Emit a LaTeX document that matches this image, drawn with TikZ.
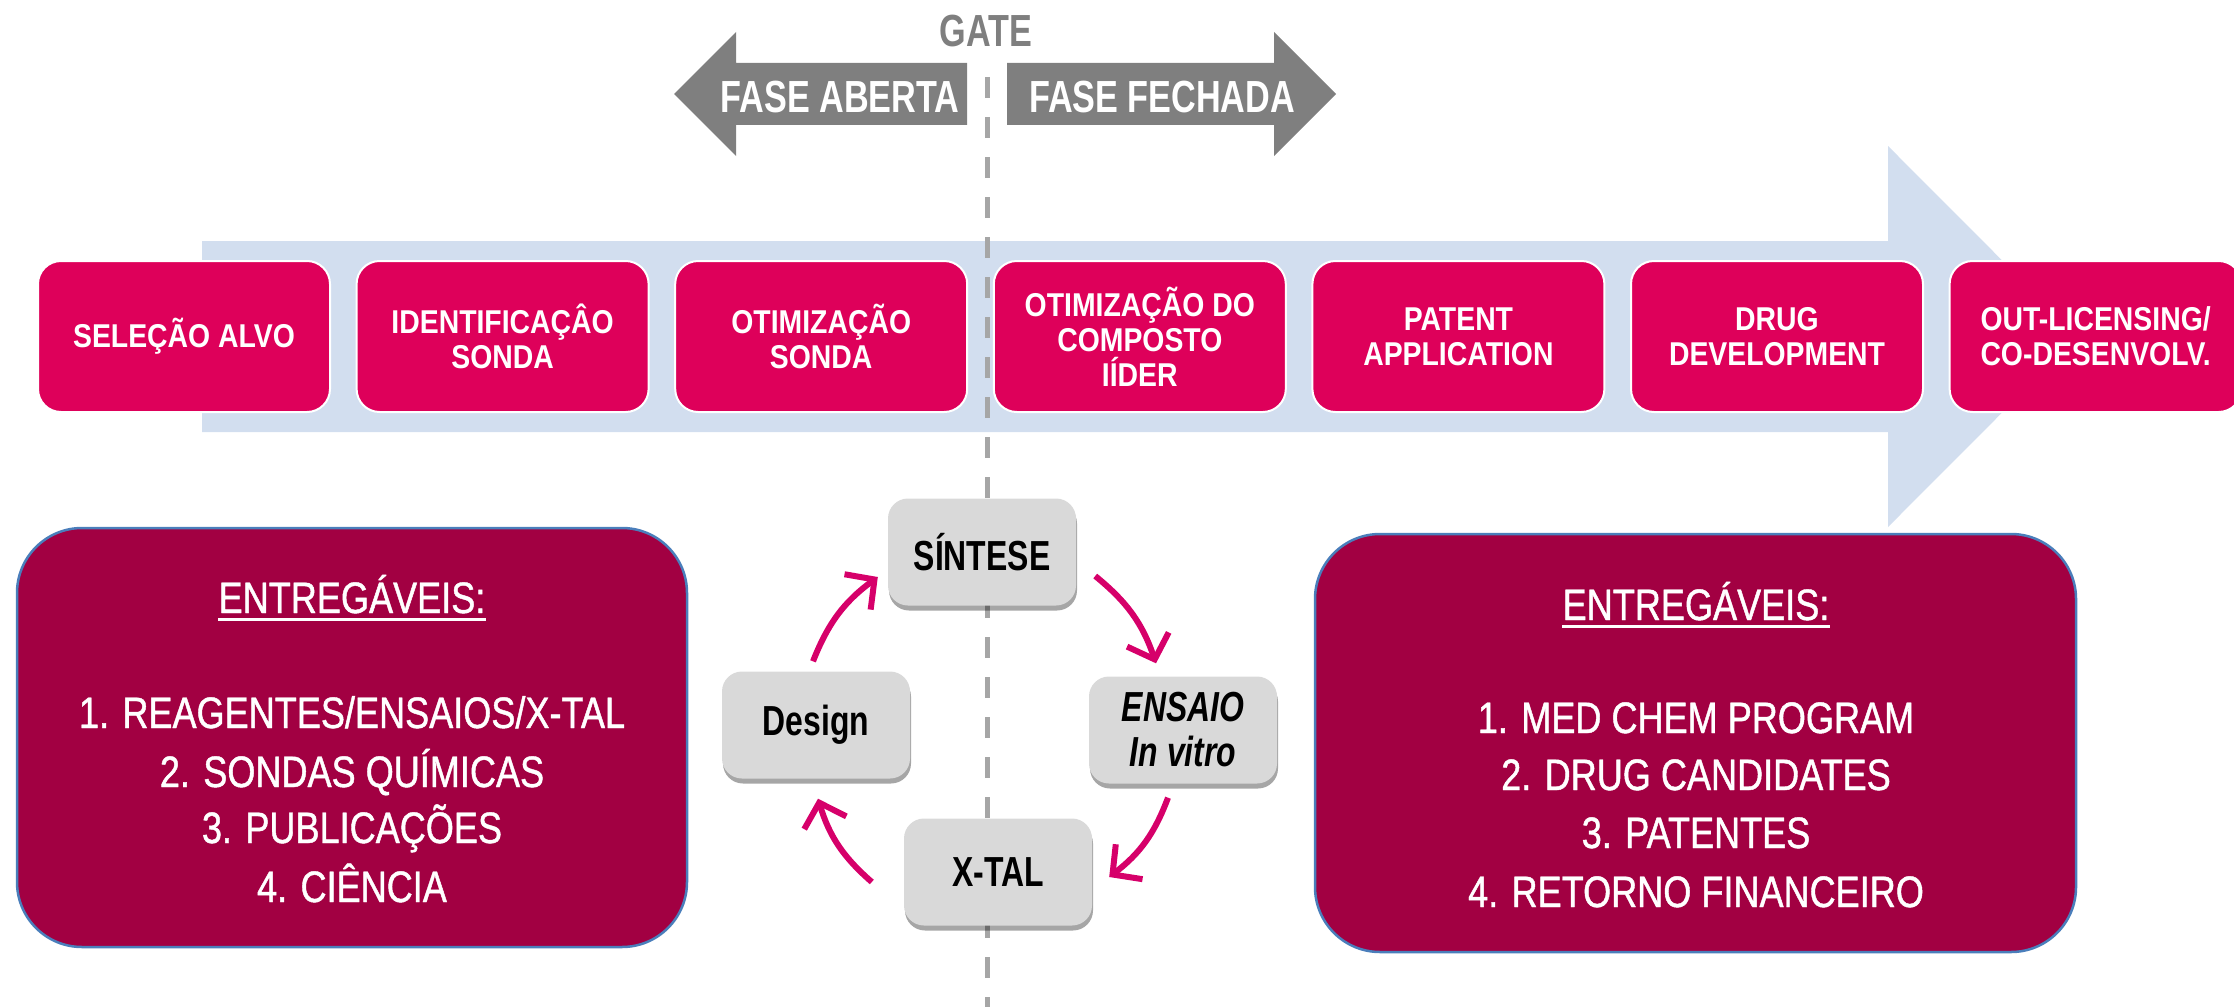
\documentclass[tikz,border=0pt]{standalone}
\usepackage{fontspec}
\setmainfont{Liberation Sans}
\newfontfamily\stagefam[FakeStretch=0.86]{Liberation Sans}
\newfontfamily\headfam[FakeStretch=0.76]{Liberation Sans}
\newfontfamily\delivfam[FakeStretch=0.82,FakeBold=1]{Liberation Sans}
\usetikzlibrary{arrows.meta,shadows}

\definecolor{stagepink}{RGB}{222,0,90}
\definecolor{delivred}{RGB}{162,0,66}
\definecolor{bandblue}{RGB}{210,222,239}
\definecolor{phasegray}{RGB}{127,127,127}
\definecolor{gategray}{RGB}{166,166,166}
\definecolor{cyclegray}{RGB}{217,217,217}
\definecolor{cyclepink}{RGB}{214,0,106}
\definecolor{edgeblue}{RGB}{74,126,187}

\newcommand\stagefont{\stagefam\bfseries\fontsize{33}{35}\selectfont}
\newcommand\phasefont{\headfam\bfseries\fontsize{45}{48}\selectfont}
\newcommand\cycfont{\headfam\bfseries\fontsize{42}{45}\selectfont}
\newcommand\delivfont{\delivfam\fontsize{44}{48}\selectfont}

\begin{document}
\begin{tikzpicture}[x=1pt,y=-1pt,
  stagebox/.style={rectangle, rounded corners=23pt, fill=stagepink, draw=white,
    line width=2pt, minimum width=292pt, minimum height=151pt, inner sep=0pt,
    align=center, text=white, font=\stagefont},
  phasetext/.style={anchor=base, inner sep=0pt, font=\phasefont},
  delivbox/.style={rectangle, rounded corners=65pt, fill=delivred, draw=edgeblue,
    line width=2.5pt},
  delivtext/.style={anchor=base, inner sep=0pt, text=white, font=\delivfont},
  cyclebox/.style={rectangle, rounded corners=20pt, fill=cyclegray,
    minimum width=188pt, minimum height=107pt, inner sep=0pt, align=center,
    font=\cycfont,
    drop shadow={shadow xshift=1pt, shadow yshift=-5pt, fill=black, opacity=0.35}},
  cyclearrow/.style={cyclepink, line width=6pt, -{Straight Barb[length=21pt,width=44pt]}},
  ]
\clip (0,0) rectangle (2234,1006);

% pipeline band
\fill[bandblue] (202,241) -- (1888,241) -- (1888,146) -- (2078,336.5)
  -- (1888,527) -- (1888,432) -- (202,432) -- cycle;

% gate line
\coordinate (gatetop) at (987,77);
\coordinate (gatebot) at (987,1010);
\draw[gategray, line width=5pt, dash pattern=on 21pt off 19pt] (gatetop) -- (gatebot);

% phase arrows
\fill[phasegray] (674,94) -- (736,32) -- (736,63) -- (967,63) -- (967,125)
  -- (736,125) -- (736,156) -- cycle;
\fill[phasegray] (1336,94) -- (1274,32) -- (1274,63) -- (1007,63) -- (1007,125)
  -- (1274,125) -- (1274,156) -- cycle;
\node[phasetext, text=white] (aberta) at (840,113) {FASE ABERTA};
\node[phasetext, text=white] (fechada) at (1162,113) {FASE FECHADA};
\node[phasetext, text=phasegray] (gate) at (986,47) {GATE};

% pipeline stages
\node[stagebox] (s1) at (184,336.5) {SELEÇÃO ALVO};
\node[stagebox] (s2) at (502.6,336.5) {IDENTIFICAÇÂO\\SONDA};
\node[stagebox] (s3) at (821.2,336.5) {OTIMIZAÇÃO\\SONDA};
\node[stagebox] (s4) at (1139.8,336.5) {OTIMIZAÇÃO DO\\COMPOSTO\\IÍDER};
\node[stagebox] (s5) at (1458.4,336.5) {PATENT\\APPLICATION};
\node[stagebox] (s6) at (1777,336.5) {DRUG\\DEVELOPMENT};
\node[stagebox] (s7) at (2095.6,336.5) {OUT-LICENSING/\\CO-DESENVOLV.};

% deliverables, open phase
\node[delivbox, minimum width=670pt, minimum height=419pt] (lbox) at (352,737.5) {};
\node[delivtext] (lhead) at (352,613) {ENTREGÁVEIS:};
\draw[white, line width=3pt] ([shift={(0,6)}]lhead.base west) -- ([shift={(0,6)}]lhead.base east);
\node[delivtext] (l1) at (352,728) {1. REAGENTES/ENSAIOS/X-TAL};
\node[delivtext] (l2) at (352,787) {2. SONDAS QUÍMICAS};
\node[delivtext] (l3) at (352,843) {3. PUBLICAÇÕES};
\node[delivtext] (l4) at (352,902) {4. CIÊNCIA};

% deliverables, closed phase
\node[delivbox, minimum width=761pt, minimum height=418pt] (rbox) at (1695.5,743) {};
\node[delivtext] (rhead) at (1696,620) {ENTREGÁVEIS:};
\draw[white, line width=3pt] ([shift={(0,6)}]rhead.base west) -- ([shift={(0,6)}]rhead.base east);
\node[delivtext] (r1) at (1696,733) {1. MED CHEM PROGRAM};
\node[delivtext] (r2) at (1696,790) {2. DRUG CANDIDATES};
\node[delivtext] (r3) at (1696,848) {3. PATENTES};
\node[delivtext] (r4) at (1696,907) {4. RETORNO FINANCEIRO};

% design cycle
\node[cyclebox] (sintese) at (982,552) {SÍNTESE};
\node[cyclebox] (design) at (816,725) {Design};
\node[cyclebox, font=\cycfont\itshape] (ensaio) at (1183,730) {ENSAIO\\In vitro};
\node[cyclebox] (xtal) at (998,872) {X-TAL};

\draw[cyclearrow] ([shift={(-3,-10)}]design.north) to[bend left=16] ([shift={(-10,25)}]sintese.west);
\draw[cyclearrow] ([shift={(19,24)}]sintese.east) to[bend left=16] ([shift={(-27,-13)}]ensaio.north);
\draw[cyclearrow] ([shift={(-15,14)}]ensaio.south) to[bend left=16] ([shift={(17,5)}]xtal.east);
\draw[cyclearrow] ([shift={(-32,10)}]xtal.west) to[bend left=16] ([shift={(2,20)}]design.south);
\end{tikzpicture}
\end{document}
